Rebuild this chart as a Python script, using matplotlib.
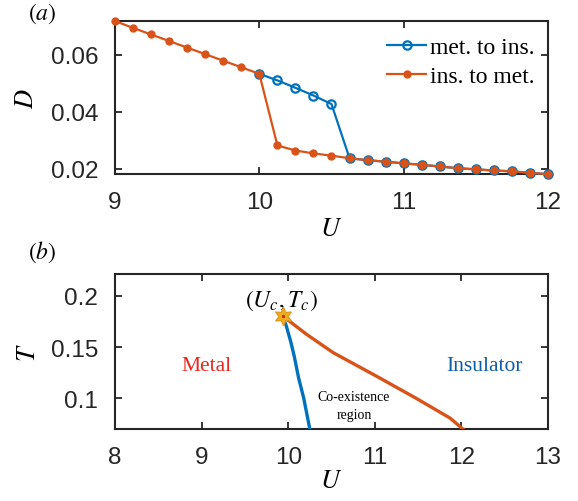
import numpy as np
import matplotlib
matplotlib.use("Agg")
import matplotlib.pyplot as plt

plt.rcParams["font.family"] = ["Liberation Sans", "DejaVu Sans"]
plt.rcParams["mathtext.fontset"] = "stix"

# (a) double occupancy D vs U, both sweep directions
U_sweep = [9.0, 9.125, 9.25, 9.375, 9.5, 9.625, 9.75, 9.875, 10.0, 10.125, 10.25, 10.375,
           10.5, 10.625, 10.75, 10.875, 11.0, 11.125, 11.25, 11.375, 11.5, 11.625,
           11.75, 11.875, 12.0]
D_ins_to_met = [0.0718, 0.0694, 0.0671, 0.0648, 0.0625, 0.0602, 0.0579, 0.0556, 0.0533,
                0.0282, 0.0264, 0.0254, 0.0246, 0.0237, 0.0230, 0.0225, 0.0219, 0.0214,
                0.0208, 0.0202, 0.0198, 0.0194, 0.0191, 0.0186, 0.0181]
U_met = U_sweep[8:]
D_met_to_ins = [0.0533, 0.0510, 0.0484, 0.0457, 0.0427, 0.0237, 0.0230, 0.0225, 0.0219,
                0.0214, 0.0208, 0.0202, 0.0198, 0.0194, 0.0191, 0.0186, 0.0181]

# (b) phase boundaries in the U-T plane
U_c1 = [9.94, 9.98, 10.03, 10.07, 10.12, 10.18, 10.25]
T_c1 = [0.180, 0.170, 0.155, 0.141, 0.120, 0.100, 0.070]
U_c2 = [9.94, 10.21, 10.52, 11.02, 11.48, 11.87, 12.02]
T_c2 = [0.180, 0.1625, 0.1445, 0.1216, 0.100, 0.0808, 0.070]
Uc, Tc = 9.94, 0.180

blue = "#0072BD"
orange = "#D95319"
axcol = "#262626"
serif = ["Liberation Serif", "DejaVu Serif"]

fig = plt.figure(figsize=(5.78, 5.02), dpi=100)
ax1 = fig.add_axes([0.199, 0.651, 0.749, 0.305])
ax2 = fig.add_axes([0.199, 0.143, 0.749, 0.309])

for ax in (ax1, ax2):
    ax.tick_params(direction="in", top=True, right=True, length=5, width=1.3,
                   labelsize=17.5, colors=axcol, pad=12)
    for s in ax.spines.values():
        s.set_linewidth(1.5)
        s.set_color(axcol)

ax1.plot(U_met, D_met_to_ins, "-o", color=blue, lw=1.6, ms=6, mfc="none", mew=1.6,
         clip_on=False, label="met. to ins.", zorder=3)
ax1.plot(U_sweep, D_ins_to_met, "-o", color=orange, lw=1.6, ms=5, mfc=orange, mec=orange,
         clip_on=False, label="ins. to met.", zorder=4)
ax1.set_xlim(9, 12)
ax1.set_ylim(0.0181, 0.0718)
ax1.set_xticks([9, 10, 11, 12])
ax1.set_yticks([0.02, 0.04, 0.06])
ax1.set_yticklabels(["0.02", "0.04", "0.06"])
ax1.set_xlabel(r"$U$", fontsize=19, labelpad=2)
ax1.set_ylabel(r"$D$", fontsize=19, labelpad=9)
ax1.legend(loc="upper right", bbox_to_anchor=(0.968, 0.90), frameon=False,
           prop={"family": serif, "size": 17}, handlelength=1.65, handletextpad=0.15,
           labelspacing=0.32, borderaxespad=0.0, borderpad=0.0)

ax2.plot(U_c1, T_c1, color=blue, lw=2.4, zorder=3)
ax2.plot(U_c2, T_c2, color=orange, lw=2.4, zorder=3)
ax2.plot([Uc], [Tc], marker=(6, 1, 0), ms=13, color="#EDB120", mec="#E39A1C",
         mew=1.0, zorder=5)
ax2.plot([Uc], [Tc], marker=".", ms=3, color="#D0301A", zorder=6)
ax2.set_xlim(8, 13)
ax2.set_ylim(0.07, 0.221)
ax2.set_xticks([8, 9, 10, 11, 12, 13])
ax2.set_yticks([0.1, 0.15, 0.2])
ax2.set_yticklabels(["0.1", "0.15", "0.2"])
ax2.set_xlabel(r"$U$", fontsize=19, labelpad=0)
ax2.set_ylabel(r"$T$", fontsize=19, labelpad=8)

ax2.text(9.92, 0.196, r"$(U_c, T_c)$", fontsize=17, ha="center", va="center")
ax2.text(9.06, 0.132, "Metal", color="#E8281E", fontsize=15.5, family=serif,
         ha="center", va="center")
ax2.text(12.27, 0.132, "Insulator", color="#0E5EA4", fontsize=15.5, family=serif,
         ha="center", va="center")
ax2.text(10.76, 0.093, "Co-existence\nregion", fontsize=10, family=serif,
         ha="center", va="center", linespacing=1.45)

fig.text(0.073, 0.972, r"$(a)$", fontsize=17, ha="center", va="center")
fig.text(0.073, 0.497, r"$(b)$", fontsize=17, ha="center", va="center")

fig.savefig("out.png", dpi=100)
